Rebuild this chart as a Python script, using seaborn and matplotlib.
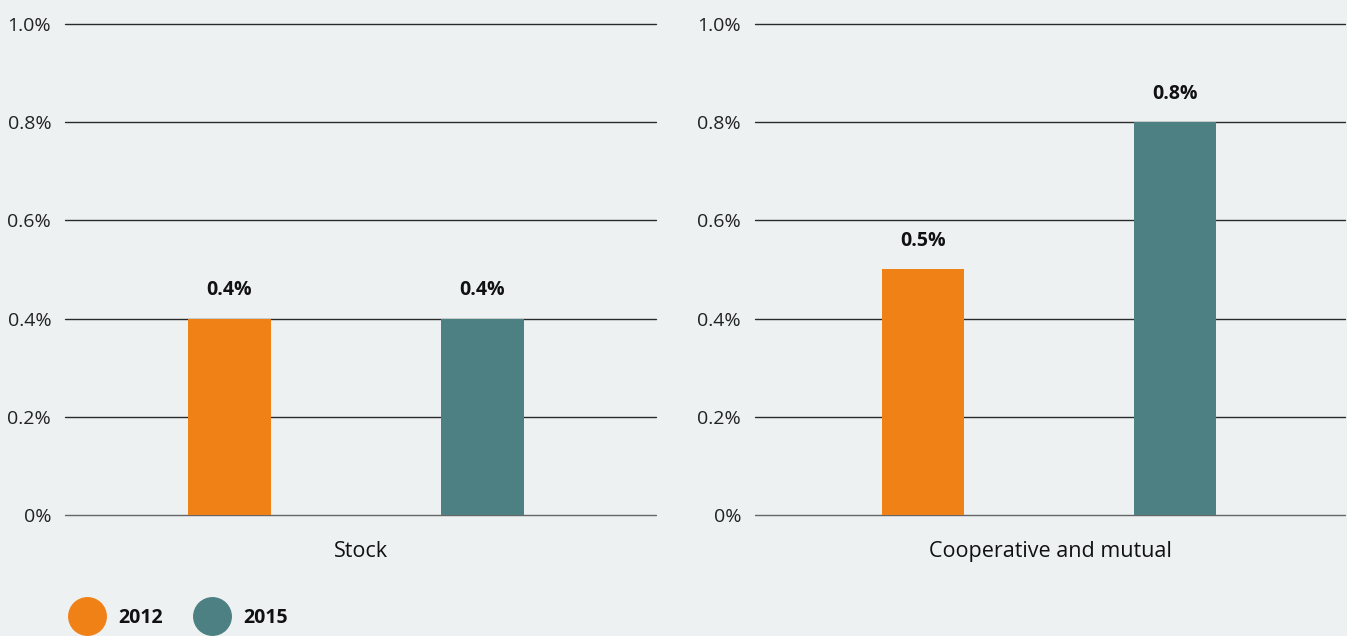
import matplotlib
matplotlib.use("Agg")
import matplotlib.pyplot as plt
from matplotlib.lines import Line2D
import seaborn as sns
import pandas as pd

# Share of premiums by company type, 2012 vs 2015
panels = ["Stock", "Cooperative and mutual"]
years = ["2012", "2015"]
stock_values = [0.4, 0.4]
coop_values = [0.5, 0.8]
y_ticks = [0.0, 0.2, 0.4, 0.6, 0.8, 1.0]
y_tick_labels = ["0%", "0.2%", "0.4%", "0.6%", "0.8%", "1.0%"]

colors = {"2012": "#F08117", "2015": "#4C8083"}
bg = "#EDF1F2"

df = pd.DataFrame({
    "panel": [panels[0]] * 2 + [panels[1]] * 2,
    "year": years * 2,
    "value": stock_values + coop_values,
})

sns.set_theme(style="white")
plt.rcParams["font.family"] = ["Open Sans", "DejaVu Sans"]

fig = plt.figure(figsize=(13.47, 6.36), dpi=100, facecolor=bg)
ax_left = fig.add_axes([0.0483, 0.1903, 0.4388, 0.772])
ax_right = fig.add_axes([0.5605, 0.1903, 0.4380, 0.772])
xlims = [(-0.650, 1.686), (-0.666, 1.674)]

for ax, panel, xl in zip([ax_left, ax_right], panels, xlims):
    sub = df[df["panel"] == panel]
    sns.barplot(data=sub, x="year", y="value", hue="year", palette=colors,
                order=years, hue_order=years, width=0.328, legend=False,
                saturation=1, linewidth=0, ax=ax, zorder=3)
    ax.set_facecolor(bg)
    ax.set_xlim(*xl)
    ax.set_ylim(0, 1.0)
    ax.set_yticks(y_ticks)
    ax.set_yticklabels(y_tick_labels, fontsize=14, color="#222222")
    ax.tick_params(axis="y", length=0, pad=10)
    ax.set_xticks([])
    ax.set_xlabel(panel, fontsize=15.5, color="#111111", labelpad=19)
    ax.set_ylabel("")
    for s in ax.spines.values():
        s.set_visible(False)
    for t in y_ticks:
        ax.axhline(t, color="#666666" if t == 0 else "#2a2a2a",
                   linewidth=1.0, zorder=2, clip_on=False)
    for i, v in enumerate(sub["value"].tolist()):
        ax.text(i, v + 0.058, f"{v:.1f}%", ha="center", va="center",
                fontsize=14, fontweight="bold", color="#111111")

handles = [Line2D([0], [0], marker="o", linestyle="none", markersize=27,
                  markerfacecolor=colors[y], markeredgecolor=colors[y])
           for y in years]
leg = fig.legend(handles, years, loc="center left", bbox_to_anchor=(0.037, 0.028),
                 ncol=2, frameon=False, handletextpad=0.6, columnspacing=1.55,
                 prop={"size": 14, "weight": "bold"})
for t in leg.get_texts():
    t.set_color("#111111")

fig.savefig("out.png", dpi=100, facecolor=bg)
